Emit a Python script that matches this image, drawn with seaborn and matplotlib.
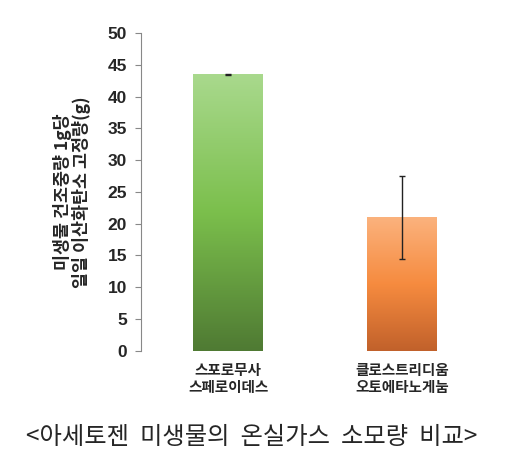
import matplotlib.pyplot as plt
import numpy as np
import pandas as pd
import seaborn as sns
from matplotlib.colors import LinearSegmentedColormap

# data
microbes = ['스포로무사\n스페로이데스', '클로스트리디움\n오토에타노게눔']
fixation = [43.5, 21.0]
errors = [0.1, 6.5]
y_ticks = [0, 5, 10, 15, 20, 25, 30, 35, 40, 45, 50]

df = pd.DataFrame({'microbe': microbes, 'fixation': fixation})

sns.set_style('white')
plt.rcParams['font.family'] = ['Noto Sans CJK KR', 'DejaVu Sans']

fig = plt.figure(figsize=(5.09, 4.51), dpi=100)
ax = fig.add_axes([0.277, 0.222, 0.684, 0.705])

sns.barplot(data=df, x='microbe', y='fixation', ax=ax, width=0.4,
            color='white', edgecolor='none', errorbar=None)

# gradient fills, clipped to each bar
gradients = [
    ['#4f7a33', '#7bbf4c', '#a9d98d'],
    ['#c1612b', '#f68b3f', '#fbb27d'],
]
for patch, cols in zip(ax.patches, gradients):
    cmap = LinearSegmentedColormap.from_list('g', cols)
    x0, y0 = patch.get_x(), patch.get_y()
    w, h = patch.get_width(), patch.get_height()
    grad = np.linspace(0, 1, 256).reshape(-1, 1)
    im = ax.imshow(grad, cmap=cmap, origin='lower', aspect='auto',
                   extent=[x0, x0 + w, y0, y0 + h], zorder=2)
    im.set_clip_path(patch)

ax.errorbar(range(len(fixation)), fixation, yerr=errors, fmt='none',
            ecolor='#222222', elinewidth=1, capsize=2, capthick=1, zorder=3)

ax.set_xlim(-0.5, 1.5)
ax.set_ylim(0, 50)
ax.set_yticks(y_ticks)
ax.set_yticklabels([str(t) for t in y_ticks], fontsize=12.5, fontweight='bold',
                   family=['Liberation Sans', 'DejaVu Sans'])
ax.tick_params(axis='y', length=4, width=0.8, color='#888888', left=True, pad=6)
ax.tick_params(axis='x', length=0, pad=8)
for lab in ax.get_xticklabels():
    lab.set_fontsize(10.5)
    lab.set_fontweight('bold')
    lab.set_linespacing(1.1)

for s in ['top', 'right', 'bottom']:
    ax.spines[s].set_visible(False)
ax.spines['left'].set_color('#888888')
ax.spines['left'].set_linewidth(0.8)

ax.set_xlabel('')
ax.set_ylabel('미생물 건조중량 1g당\n일일 이산화탄소 고정량(g)', fontsize=12.5,
              fontweight='bold', linespacing=1.0, labelpad=12)

fig.text(0.495, 0.003, '<아세토젠  미생물의  온실가스  소모량  비교>',
         ha='center', va='bottom', fontsize=17.5)

fig.savefig('out.png', dpi=100)
